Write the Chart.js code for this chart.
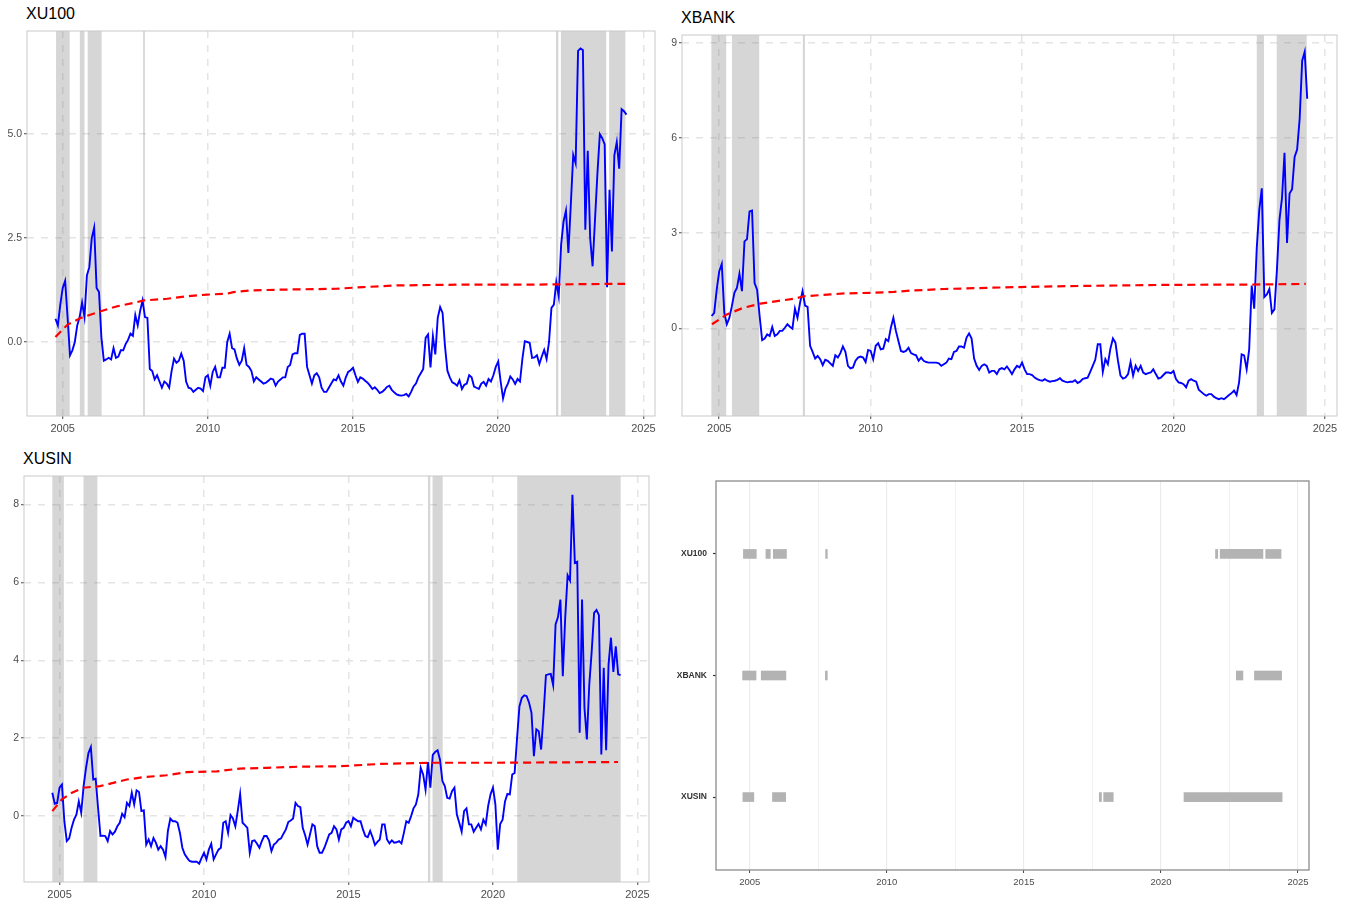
<!DOCTYPE html>
<html>
<head>
<meta charset="utf-8">
<title>XU100 / XBANK / XUSIN</title>
<script src="https://cdn.jsdelivr.net/npm/chart.js@4.4.1/dist/chart.umd.min.js"></script>
<style>
  body { margin: 0; background: #fff; width: 1357px; height: 902px; position: relative; overflow: hidden; font-family: "Liberation Sans", Arial, sans-serif; }
  canvas { position: absolute; }
  .title { position: absolute; font-size: 16px; line-height: 1; color: #000; white-space: nowrap; }
</style>
</head>
<body>
<div class="title" style="left:26px;top:6px">XU100</div>
<div class="title" style="left:681px;top:10px">XBANK</div>
<div class="title" style="left:23px;top:451px">XUSIN</div>
<canvas id="xu100" width="665" height="440" style="left:0;top:0;width:665px;height:440px"></canvas>
<canvas id="xbank" width="692" height="440" style="left:665px;top:0;width:692px;height:440px"></canvas>
<canvas id="xusin" width="665" height="457" style="left:0;top:445px;width:665px;height:457px"></canvas>
<canvas id="timeline" width="692" height="457" style="left:665px;top:445px;width:692px;height:457px"></canvas>
<script>
// monthly data, Oct 2004 .. Jun 2024 (one row per calendar year)
const firstMonth = 2004 + 9 / 12;

const xu100 = [
  0.56, 0.40, 0.9,
  1.3, 1.47, 0.6, -0.32, -0.2, 0.0, 0.4, 0.6, 0.95, 0.6, 1.6, 1.8,
  2.5, 2.75, 1.3, 1.2, 0.1, -0.45, -0.42, -0.38, -0.42, -0.15, -0.38, -0.35,
  -0.2, -0.2, -0.05, 0.05, 0.2, 0.15, 0.65, 0.4, 0.75, 1.0, 0.6, 0.58,
  -0.65, -0.7, -0.9, -0.8, -0.95, -1.1, -0.95, -1.0, -1.1, -0.7, -0.4, -0.5,
  -0.45, -0.28, -0.45, -0.95, -1.1, -1.12, -1.2, -1.15, -1.1, -1.12, -1.18, -0.85,
  -0.8, -1.05, -0.72, -0.6, -0.85, -0.85, -0.62, -0.62, 0.0, 0.2, -0.15, -0.18,
  -0.4, -0.55, -0.45, -0.15, -0.55, -0.6, -0.7, -0.95, -0.85, -0.9, -0.95, -1.0,
  -0.98, -0.93, -0.88, -0.9, -1.05, -0.95, -0.9, -0.85, -0.85, -0.6, -0.55, -0.3,
  -0.27, -0.27, 0.17, 0.2, 0.2, -0.6, -0.8, -1.0, -0.8, -0.75, -0.85, -1.1,
  -1.2, -1.2, -1.1, -1.0, -0.9, -0.92, -0.8, -0.95, -1.05, -0.85, -0.72, -0.68,
  -0.62, -0.8, -0.96, -0.85, -0.88, -0.93, -0.98, -1.05, -1.13, -1.09, -1.15, -1.23,
  -1.2, -1.15, -1.08, -1.05, -1.15, -1.21, -1.26, -1.28, -1.29, -1.28, -1.25, -1.31,
  -1.2, -1.07, -1.0, -0.85, -0.75, -0.65, 0.1, 0.18, -0.61, 0.14, -0.3, 0.58,
  0.84, 0.7, -0.1, -0.69, -0.85, -0.97, -1.0, -1.05, -0.92, -1.13, -1.03, -1.0,
  -0.8, -0.85, -1.07, -1.1, -1.13, -1.0, -0.96, -1.05, -0.89, -0.95, -0.8, -0.6,
  -0.47, -0.95, -1.36, -1.12, -1.0, -0.83, -0.9, -1.01, -0.89, -0.95, -0.4, 0.02,
  0.0, -0.02, -0.38, -0.37, -0.32, -0.53, -0.35, -0.19, -0.41, 0.0, 0.82, 0.9,
  1.44, 1.1, 2.34, 2.9, 3.16, 2.14, 3.3, 4.5, 4.3, 7.0, 7.06, 7.02,
  2.7, 4.6, 2.5, 1.82, 2.94, 4.05, 5.0, 4.9, 4.75, 1.32, 3.66, 2.18,
  4.49, 4.81, 4.17, 5.6, 5.55, 5.47
];

const xbank = [
  0.39, 0.49, 1.22,
  1.8, 2.03, 0.49, 0.13, 0.33, 0.7, 1.12, 1.27, 1.72, 1.17, 2.74, 2.81,
  3.68, 3.71, 1.43, 1.22, 0.39, -0.37, -0.32, -0.19, -0.24, 0.04, -0.24, -0.19,
  -0.08, -0.08, 0.02, 0.13, 0.05, -0.01, 0.62, 0.33, 0.8, 1.17, 0.72, 0.68,
  -0.55, -0.74, -0.95, -0.87, -0.97, -1.16, -0.99, -1.02, -1.1, -1.18, -0.85, -0.92,
  -0.78, -0.57, -0.74, -1.18, -1.26, -1.23, -1.02, -0.92, -0.89, -0.92, -1.06, -0.68,
  -0.71, -0.97, -0.55, -0.47, -0.66, -0.64, -0.34, -0.4, 0.02, 0.33, -0.08, -0.4,
  -0.71, -0.74, -0.71, -0.61, -0.78, -0.82, -0.85, -1.02, -0.92, -1.02, -1.06, -1.08,
  -1.08, -1.08, -1.08, -1.1, -1.18, -1.13, -1.08, -0.95, -0.97, -0.74, -0.71, -0.57,
  -0.57, -0.61, -0.29, -0.16, -0.32, -0.95, -1.18, -1.31, -1.18, -1.13, -1.18, -1.39,
  -1.34, -1.34, -1.44, -1.29, -1.25, -1.29, -1.2, -1.31, -1.44, -1.29, -1.18, -1.23,
  -1.08, -1.29, -1.44, -1.44, -1.47, -1.55, -1.6, -1.63, -1.65, -1.6, -1.65, -1.68,
  -1.66, -1.65, -1.62, -1.57, -1.65, -1.68, -1.7, -1.68, -1.68, -1.63, -1.72, -1.68,
  -1.6, -1.57, -1.55, -1.37, -1.18, -0.99, -0.5, -0.5, -1.37, -0.97, -1.13, -0.64,
  -0.32, -0.45, -1.02, -1.49, -1.58, -1.55, -1.44, -1.06, -1.49, -1.18, -1.34, -1.18,
  -1.39, -1.44, -1.41, -1.39, -1.29, -1.44, -1.58, -1.55, -1.47, -1.39, -1.39, -1.41,
  -1.34, -1.6, -1.7, -1.72, -1.76, -1.86, -1.65, -1.6, -1.65, -1.68, -1.93, -2.0,
  -2.07, -2.12, -2.07, -2.07, -2.15, -2.2, -2.23, -2.2, -2.23, -2.17, -2.1, -2.04,
  -1.96, -2.1, -1.7, -0.82, -0.85, -1.29, -0.66, 1.35, 0.62, 2.53, 3.73, 4.41,
  0.99, 1.07, 1.24, 0.49, 0.6, 1.85, 3.42, 4.1, 5.53, 2.69, 4.25, 4.38,
  5.4, 5.63, 6.6, 8.43, 8.71, 7.23
];

const xusin = [
  0.6, 0.32, 0.34,
  0.73, 0.81, -0.13, -0.64, -0.57, -0.3, -0.09, 0.04, 0.38, 0.09, 0.77, 1.24,
  1.62, 1.77, 0.94, 0.96, 0.21, -0.51, -0.5, -0.51, -0.64, -0.38, -0.47, -0.4,
  -0.26, -0.17, 0.06, -0.03, 0.34, 0.26, 0.6, 0.3, 0.66, 0.62, 0.13, 0.15,
  -0.73, -0.6, -0.77, -0.56, -0.68, -0.86, -0.77, -0.86, -1.05, -0.38, -0.06, -0.13,
  -0.13, -0.17, -0.43, -0.81, -0.98, -1.07, -1.15, -1.17, -1.17, -1.17, -1.22, -1.07,
  -0.94, -1.11, -0.86, -0.71, -1.11, -0.98, -0.86, -0.81, -0.17, -0.13, -0.43, 0.03,
  -0.06, -0.26, 0.13, 0.57, -0.17, -0.23, -0.3, -0.94, -0.64, -0.62, -0.71, -0.81,
  -0.64, -0.51, -0.51, -0.62, -0.9, -0.73, -0.68, -0.6, -0.57, -0.45, -0.34, -0.15,
  -0.11, -0.06, 0.34, 0.26, 0.23, -0.3, -0.49, -0.73, -0.47, -0.21, -0.26, -0.77,
  -0.94, -0.94, -0.81, -0.64, -0.47, -0.43, -0.26, -0.34, -0.6, -0.34, -0.3, -0.17,
  -0.13, -0.26, -0.04, -0.09, -0.13, -0.13, -0.34, -0.51, -0.54, -0.38, -0.54, -0.74,
  -0.66, -0.6, -0.21, -0.21, -0.6, -0.7, -0.62, -0.68, -0.67, -0.64, -0.7, -0.43,
  -0.13, -0.17, 0.0, 0.2, 0.3, 0.56, 1.24, 1.07, 0.68, 1.39, 0.73, 1.57,
  1.65, 1.69, 1.45, 0.9, 0.77, 0.47, 0.45, 0.64, 0.73, 0.04, -0.17, -0.4,
  0.13, 0.2, -0.21, -0.21, -0.4, -0.3, -0.2, -0.34, -0.09, -0.21, 0.26, 0.56,
  0.73, 0.3, -0.86, -0.2, -0.09, 0.38, 0.57, 0.56, 1.07, 1.11, 2.0, 2.82,
  3.04, 3.1, 3.08, 2.91, 2.65, 1.54, 2.23, 2.18, 1.71, 2.61, 3.62, 3.64,
  3.65, 3.36, 4.92, 5.11, 5.56, 3.59, 5.09, 6.18, 6.05, 8.25, 6.5, 6.53,
  2.14, 5.56, 2.78, 1.97, 3.38, 4.23, 5.22, 5.29, 5.16, 1.58, 3.81, 1.69,
  3.89, 4.58, 3.7, 4.36, 3.64, 3.62
];

// red dashed threshold (expanding), sampled where it bends
const thrXU100Dates = [2004.75, 2005.17, 2005.63, 2006.31, 2006.88, 2007.45, 2007.8, 2008.6, 2009.28, 2009.97, 2010.65, 2010.88, 2011.45, 2012.59, 2014.4, 2015.35, 2016.5, 2018.78, 2021.06, 2024.37];
const thrXU100 = [0.12, 0.42, 0.58, 0.74, 0.86, 0.94, 1.0, 1.04, 1.1, 1.14, 1.16, 1.2, 1.24, 1.26, 1.28, 1.32, 1.36, 1.38, 1.38, 1.4];
const thrXBANKDates = [2004.76, 2005.25, 2005.8, 2006.36, 2006.91, 2007.46, 2007.79, 2008.68, 2009.12, 2010.0, 2010.77, 2011.32, 2012.43, 2014.4, 2016.48, 2019.78, 2022.53, 2024.37];
const thrXBANK = [0.13, 0.44, 0.65, 0.78, 0.86, 0.93, 1.01, 1.07, 1.1, 1.12, 1.15, 1.19, 1.24, 1.29, 1.33, 1.37, 1.38, 1.4];
const thrXUSINDates = [2004.75, 2005.08, 2005.43, 2005.83, 2006.4, 2007.33, 2007.9, 2008.7, 2009.4, 2010.44, 2011.24, 2012.17, 2013.3, 2014.7, 2016.1, 2017.8, 2020.1, 2024.33];
const thrXUSIN = [0.13, 0.43, 0.6, 0.73, 0.77, 0.94, 1.0, 1.05, 1.13, 1.15, 1.22, 1.24, 1.27, 1.28, 1.34, 1.37, 1.37, 1.39];

// high-stress periods [start, end] in decimal years
const shadeXU100 = [[2004.77, 2005.24], [2005.59, 2005.75], [2005.86, 2006.34], [2007.77, 2007.83], [2021.99, 2022.07], [2022.16, 2023.72], [2023.82, 2024.38]];
const shadeXBANK = [[2004.74, 2005.23], [2005.42, 2006.32], [2007.76, 2007.83], [2022.75, 2022.99], [2023.41, 2024.4]];
const shadeXUSIN = [[2004.75, 2005.15], [2005.83, 2006.31], [2017.75, 2017.83], [2017.91, 2018.26], [2020.84, 2024.42]];

const indices = ['XU100', 'XBANK', 'XUSIN'];
const yearTicks = [2005, 2010, 2015, 2020, 2025];
const timelineTicks = [2005, 2007.5, 2010, 2012.5, 2015, 2017.5, 2020, 2022.5, 2025];
const yTicksXU100 = [0, 2.5, 5];
const yLabelsXU100 = ['0.0', '2.5', '5.0'];
const yTicksXBANK = [0, 3, 6, 9];
const yLabelsXBANK = ['0', '3', '6', '9'];
const yTicksXUSIN = [0, 2, 4, 6, 8];
const yLabelsXUSIN = ['0', '2', '4', '6', '8'];

const months = xu100.map((_, i) => firstMonth + i / 12);
const xMin = 2003.77, xMax = 2025.4;

Chart.defaults.font.family = '"Liberation Sans", Arial, sans-serif';

const shadePlugin = {
  id: 'shade',
  beforeDatasetsDraw(chart, args, opts) {
    if (!opts.spans) return;
    const { ctx, chartArea: a, scales: { x } } = chart;
    ctx.save();
    ctx.fillStyle = opts.color;
    opts.spans.forEach(([s, e]) => {
      const x0 = x.getPixelForValue(s);
      const x1 = x.getPixelForValue(e);
      ctx.fillRect(x0, a.top, Math.max(x1 - x0, 1.5), a.bottom - a.top);
    });
    ctx.restore();
  }
};

const framePlugin = {
  id: 'frame',
  afterDraw(chart, args, opts) {
    const { ctx, chartArea: a } = chart;
    ctx.save();
    ctx.strokeStyle = opts.color;
    ctx.lineWidth = opts.width;
    ctx.strokeRect(a.left, a.top, a.right - a.left, a.bottom - a.top);
    ctx.restore();
  }
};

function points(dates, values) {
  return dates.map((d, i) => ({ x: d, y: values[i] }));
}

function lineChart(id, cfg) {
  const canvas = document.getElementById(id);
  const a = cfg.area;
  const grid = { color: '#e4e4e4', lineWidth: 1.5, tickLength: 3, tickColor: '#444', tickWidth: 1, tickBorderDash: [] };
  return new Chart(canvas, {
    type: 'line',
    data: {
      datasets: [
        { data: points(cfg.thrDates, cfg.thr), borderColor: '#ff0000', borderWidth: 2.2, borderDash: [8, 5], pointRadius: 0, tension: 0 },
        { data: points(months, cfg.values), borderColor: '#0000ff', borderWidth: 1.9, pointRadius: 0, tension: 0 }
      ]
    },
    options: {
      responsive: false,
      animation: false,
      events: [],
      layout: { padding: { top: a.top, right: canvas.width - a.right, bottom: 0, left: 0 } },
      plugins: {
        legend: { display: false },
        tooltip: { enabled: false },
        shade: { spans: cfg.spans, color: 'rgba(128,128,128,0.32)' },
        frame: { color: '#c9c9c9', width: 1 }
      },
      scales: {
        x: {
          type: 'linear', min: xMin, max: xMax,
          afterBuildTicks: s => { s.ticks = yearTicks.map(v => ({ value: v })); },
          afterFit: s => { s.height = canvas.height - a.bottom; },
          grid: grid,
          border: { display: false, dash: [7, 7] },
          ticks: { autoSkip: false, maxRotation: 0, padding: 3, color: '#4d4d4d', font: { size: 11 }, callback: v => String(v) }
        },
        y: {
          type: 'linear', min: cfg.yMin, max: cfg.yMax,
          afterBuildTicks: s => { s.ticks = cfg.yTicks.map(v => ({ value: v })); },
          afterFit: s => { s.width = a.left; },
          grid: grid,
          border: { display: false, dash: [7, 7] },
          ticks: { autoSkip: false, padding: 2, color: '#4d4d4d', font: { size: 10.5 }, callback: v => cfg.yLabels[cfg.yTicks.indexOf(v)] }
        }
      }
    },
    plugins: [shadePlugin, framePlugin]
  });
}

lineChart('xu100', {
  values: xu100, thrDates: thrXU100Dates, thr: thrXU100, spans: shadeXU100,
  yTicks: yTicksXU100, yLabels: yLabelsXU100, yMin: -1.78, yMax: 7.48,
  area: { left: 27, right: 655, top: 31, bottom: 416 }
});

lineChart('xbank', {
  values: xbank, thrDates: thrXBANKDates, thr: thrXBANK, spans: shadeXBANK,
  yTicks: yTicksXBANK, yLabels: yLabelsXBANK, yMin: -2.76, yMax: 9.24,
  area: { left: 17, right: 672, top: 35, bottom: 416 }
});

lineChart('xusin', {
  values: xusin, thrDates: thrXUSINDates, thr: thrXUSIN, spans: shadeXUSIN,
  yTicks: yTicksXUSIN, yLabels: yLabelsXUSIN, yMin: -1.69, yMax: 8.73,
  area: { left: 24, right: 649, top: 31, bottom: 437 }
});

// timeline of stress periods per index
const timelineCanvas = document.getElementById('timeline');
const tArea = { left: 51, right: 644, top: 36, bottom: 425 };
const timelineBars = [shadeXU100, shadeXBANK, shadeXUSIN]
  .flatMap((spans, k) => spans.map(s => ({ x: s, y: k + 1 })));

new Chart(timelineCanvas, {
  type: 'bar',
  data: {
    datasets: [{ data: timelineBars, backgroundColor: '#b3b3b3', borderWidth: 0, barThickness: 9, borderSkipped: false }]
  },
  options: {
    indexAxis: 'y',
    responsive: false,
    animation: false,
    events: [],
    layout: { padding: { top: tArea.top, right: timelineCanvas.width - tArea.right, bottom: 0, left: 0 } },
    plugins: {
      legend: { display: false },
      tooltip: { enabled: false },
      frame: { color: '#8c8c8c', width: 1.3 }
    },
    scales: {
      x: {
        type: 'linear', min: xMin, max: xMax, beginAtZero: false,
        afterBuildTicks: s => { s.ticks = timelineTicks.map(v => ({ value: v })); },
        afterFit: s => { s.height = timelineCanvas.height - tArea.bottom; },
        grid: {
          color: '#ebebeb',
          lineWidth: c => (c.tick && c.tick.value % 5 === 0 ? 1.1 : 0.7),
          tickLength: 3, tickWidth: 1,
          tickColor: c => (c.tick && c.tick.value % 5 === 0 ? '#444' : 'rgba(0,0,0,0)')
        },
        border: { display: false },
        ticks: {
          autoSkip: false, maxRotation: 0, padding: 4, color: '#4d4d4d',
          font: { size: 9.5 },
          callback: v => (v % 5 === 0 ? String(v) : '')
        }
      },
      y: {
        type: 'linear', min: 0.4, max: 3.6, reverse: true, offset: false,
        afterBuildTicks: s => { s.ticks = [1, 2, 3].map(v => ({ value: v })); },
        afterFit: s => { s.width = tArea.left; },
        grid: { drawOnChartArea: false, offset: false, tickLength: 3, tickColor: '#333', tickWidth: 1.2 },
        border: { display: false },
        ticks: {
          autoSkip: false, padding: 6, color: '#333',
          font: { size: 8.5, weight: 'bold' },
          callback: v => indices[v - 1]
        }
      }
    }
  },
  plugins: [framePlugin]
});
</script>
</body>
</html>
